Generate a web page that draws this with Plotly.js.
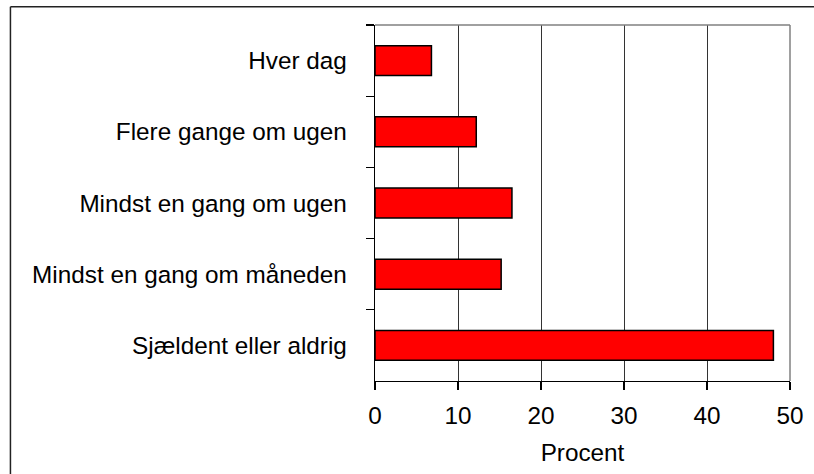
<!DOCTYPE html>
<html>
<head>
<meta charset="utf-8">
<script src="https://cdn.plot.ly/plotly-3.0.1.min.js"></script>
<style>
html,body{margin:0;padding:0;background:#fff;}
#chart{width:814px;height:474px;}
</style>
</head>
<body>
<div id="chart"></div>
<script>
var categories = ["Hver dag", "Flere gange om ugen", "Mindst en gang om ugen", "Mindst en gang om måneden", "Sjældent eller aldrig"];
var values = [6.8, 12.2, 16.5, 15.2, 48.0];
var xTicks = [0, 10, 20, 30, 40, 50];
var xTitle = "Procent";

var W = 814, H = 474;
var m = {l: 374.5, r: 24, t: 25, b: 93};
var pw = W - m.l - m.r, ph = H - m.t - m.b;

var font = {family: "Liberation Sans, Arial, sans-serif", size: 24.3, color: "#000"};

var data = [{
  type: "bar",
  orientation: "h",
  y: categories,
  x: values,
  width: 0.42,
  marker: {color: "#ff0000", line: {color: "#000", width: 1.5}},
  hoverinfo: "none"
}];

var layout = {
  width: W, height: H,
  margin: m,
  paper_bgcolor: "#fff",
  plot_bgcolor: "#fff",
  showlegend: false,
  font: font,
  xaxis: {
    range: [0, 50],
    tickvals: xTicks,
    ticktext: xTicks.map(String),
    showgrid: true,
    gridcolor: "#333",
    gridwidth: 1,
    zeroline: false,
    showline: true,
    linecolor: "#000",
    linewidth: 1.3,
    ticks: "outside",
    ticklen: 8,
    tickcolor: "#000",
    tickwidth: 1.3,
    ticklabelstandoff: 5,
    tickfont: font,
    title: {text: xTitle, font: font, standoff: 15}
  },
  yaxis: {
    type: "category",
    autorange: "reversed",
    showgrid: false,
    zeroline: false,
    showline: true,
    linecolor: "#000",
    linewidth: 1.3,
    ticks: "outside",
    tickson: "boundaries",
    ticklen: 8,
    tickcolor: "#000",
    tickwidth: 1.3,
    ticklabelstandoff: 22,
    tickfont: font
  },
  shapes: [
    {type: "line", xref: "paper", yref: "paper", x0: 0, x1: 1, y0: 1, y1: 1, line: {color: "#808080", width: 1.5}, layer: "above"},
    {type: "line", xref: "paper", yref: "paper", x0: 1, x1: 1, y0: 0, y1: 1, line: {color: "#808080", width: 1.5}, layer: "above"},
    {type: "line", xref: "paper", yref: "paper", x0: (9.5 - m.l) / pw, x1: (830 - m.l) / pw, y0: (H - m.b - 6.7) / ph, y1: (H - m.b - 6.7) / ph, line: {color: "#222", width: 1.5}},
    {type: "line", xref: "paper", yref: "paper", x0: (9.5 - m.l) / pw, x1: (9.5 - m.l) / pw, y0: (H - m.b - 6.7) / ph, y1: (H - m.b - 490) / ph, line: {color: "#222", width: 1.5}}
  ]
};

Plotly.newPlot("chart", data, layout, {staticPlot: true, displayModeBar: false});
</script>
</body>
</html>
